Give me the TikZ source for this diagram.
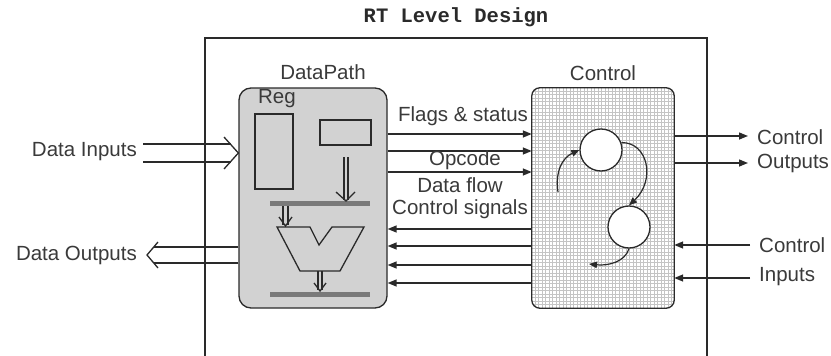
\documentclass[tikz,border=0pt]{standalone}
\usepackage{fontspec}
\setmainfont{Liberation Sans}
\newfontfamily\monofam{Liberation Mono}
\usetikzlibrary{arrows.meta,calc}
\definecolor{ink}{HTML}{2A2A2A}
\definecolor{txt}{HTML}{3A3A3A}
\definecolor{dpgray}{HTML}{D2D2D2}
\definecolor{busgray}{HTML}{7A7A7A}
\definecolor{gridgray}{HTML}{C4C4C4}
\tikzset{
  lbl/.style={inner sep=0pt, text=txt, font=\fontsize{20.5}{22}\selectfont},
  wire/.style={draw=ink, line width=1.4pt},
  sig/.style={wire, -{Triangle[length=9pt,width=7pt]}},
  hollow/.style={draw=ink, line width=1.3pt},
  circ/.style={circle, draw=ink, line width=1.3pt, fill=white, minimum size=42pt, inner sep=0pt},
}
\begin{document}
\begin{tikzpicture}[x=1pt,y=-1pt]
\useasboundingbox (0,0) rectangle (831,356);
\fill[white] (0,0) rectangle (831,356);
% outer frame
\draw[ink, line width=1.4pt] (205,362) -- (205,38) -- (707,38) -- (707,362);
\node[inner sep=0pt, text=ink, font=\monofam\bfseries\fontsize{20.5}{22}\selectfont] (title) at (456,17) {RT Level Design};

% DataPath box
\node[draw=ink, line width=1.3pt, fill=dpgray, rounded corners=12pt, minimum width=148pt, minimum height=220pt, inner sep=0pt] (dp) at (313,198) {};
\node[lbl] (dplbl) at (323,72) {DataPath};
\node[lbl] (reglbl) at (277,99) {Reg};
\node[draw=ink, line width=1.3pt, minimum width=38pt, minimum height=75pt, inner sep=0pt] (reg) at (274,151.5) {};
\node[draw=ink, line width=1.3pt, minimum width=51pt, minimum height=25pt, inner sep=0pt] (sreg) at (345.5,132.5) {};
% buses
\node[fill=busgray, minimum width=100pt, minimum height=5pt, inner sep=0pt] (bus1) at (320,203.5) {};
\node[fill=busgray, minimum width=100pt, minimum height=5pt, inner sep=0pt] (bus2) at (320,294.5) {};
% ALU
\draw[hollow, fill=dpgray] (277,227) -- (310,227) -- (319,245) -- (332,227) -- (364,227) -- (340,271) -- (300,271) -- cycle;
\coordinate (alutop) at (285.5,227);
\coordinate (alubot) at (320,271);
% internal double arrows
\draw[hollow] (344,157) -- (344,200) (348,157) -- (348,200);
\draw[hollow] (336,192) -- (346,201) -- (355,192);
\draw[hollow] (283,206) -- (283,225) (288,206) -- (288,225);
\draw[hollow] (279,217) -- (285.5,226) -- (292,217);
\draw[hollow] (318,271) -- (318,290) (322,271) -- (322,290);
\draw[hollow] (314,283) -- (320,291) -- (326,283);

% Control box
\node[minimum width=142pt, minimum height=220pt, inner sep=0pt] (ctl) at (603,198) {};
\begin{scope}
\clip[rounded corners=8pt] (ctl.north west) rectangle (ctl.south east);
\fill[white] (ctl.north west) rectangle (ctl.south east);
\foreach \i in {0,...,41} {\draw[gridgray, line width=0.9pt] ($(ctl.north west)+(\i*3.5,0)$) -- ++(0,220);}
\foreach \i in {0,...,63} {\draw[gridgray, line width=0.9pt] ($(ctl.north west)+(0,\i*3.5)$) -- ++(142,0);}
\end{scope}
\draw[ink, line width=1.3pt, rounded corners=8pt] (ctl.north west) rectangle (ctl.south east);
\node[lbl] (ctllbl) at (603,73) {Control};
\node[circ] (s1) at (601,150) {};
\node[circ] (s2) at (629,227) {};
\draw[ink, line width=1.2pt, -{Triangle[length=8pt,width=6.5pt]}] (558,192) .. controls (555,172) and (562,158) .. (s1.west);
\draw[ink, line width=1.2pt, -{Triangle[length=8pt,width=6.5pt]}] (s1.20) .. controls (648,142) and (656,180) .. (s2.north);
\draw[ink, line width=1.2pt, -{Triangle[length=8pt,width=6.5pt]}] (s2.south) .. controls (625,262) and (608,266) .. (589,264);

% DataPath -> Control
\foreach \y in {134,151,172} {\draw[sig] (dp.east |- 0,\y) -- (ctl.west |- 0,\y);}
\foreach \y in {229,246,265,283} {\draw[sig] (ctl.west |- 0,\y) -- (dp.east |- 0,\y);}
\node[lbl] (fs) at (463,116) {Flags \& status};
\node[lbl] (op) at (465,160) {Opcode};
\node[lbl] (df) at (460,185) {Data flow};
\node[lbl] (cs) at (460,209) {Control signals};

% Data inputs / outputs
\coordinate (ditip) at (dp.west |- 0,153);
\draw[hollow] (143,144) -- (231,144) (143,162) -- (231,162);
\draw[hollow] (224,137) -- (ditip) -- (224,169);
\node[lbl, anchor=east] (dilbl) at (137,152) {Data Inputs};
\coordinate (dotip) at (147,255);
\draw[hollow] (dp.west |- 0,247) -- (154,247) (dp.west |- 0,263) -- (154,263);
\draw[hollow] (158,242) -- (dotip) -- (158,268);
\node[lbl, anchor=east] (dolbl) at (137,255) {Data Outputs};

% Control outputs / inputs
\coordinate (co1) at (748,136);
\coordinate (co2) at (748,163);
\draw[sig] (ctl.east |- co1) -- (co1);
\draw[sig] (ctl.east |- co2) -- (co2);
\node[lbl, anchor=west] (col1) at (757,137) {Control};
\node[lbl, anchor=west] (col2) at (757,163) {Outputs};
\coordinate (ci1) at (750,245);
\coordinate (ci2) at (750,278);
\draw[sig] (ci1) -- (ctl.east |- ci1);
\draw[sig] (ci2) -- (ctl.east |- ci2);
\node[lbl, anchor=west] (cil1) at (759,245) {Control};
\node[lbl, anchor=west] (cil2) at (759,277) {Inputs};
\end{tikzpicture}
\end{document}
